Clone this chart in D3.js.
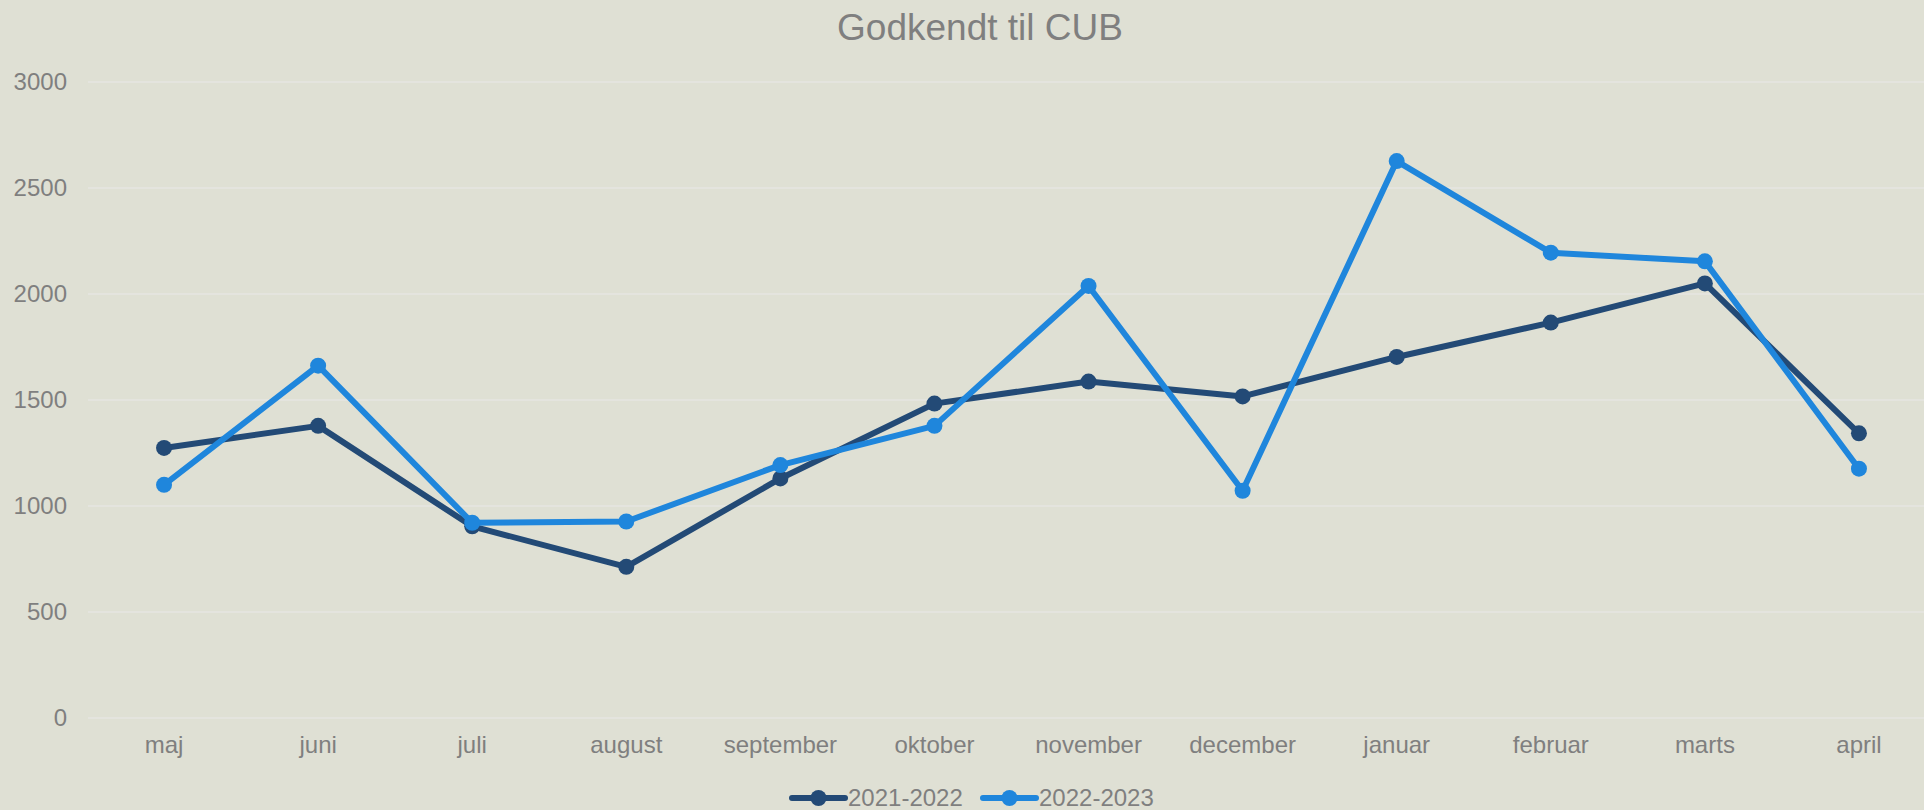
<!DOCTYPE html>
<html>
<head>
<meta charset="utf-8">
<script src="https://cdn.jsdelivr.net/npm/d3@7"></script>
<style>
	body { margin: 0; background: #dfe0d4; overflow: hidden; }
	text { font-family: "Liberation Sans", Arial, sans-serif; fill: #7f7f7f; }
</style>
</head>
<body>
<script>
(function(){

	//chart data
	var months = ["maj", "juni", "juli", "august", "september", "oktober", "november", "december", "januar", "februar", "marts", "april"];
	var seriesNames = ["2021-2022", "2022-2023"];
	var values2122 = [1274, 1378, 904, 713, 1130, 1483, 1587, 1517, 1703, 1865, 2050, 1343];
	var values2223 = [1100, 1662, 921, 927, 1193, 1378, 2038, 1072, 2627, 2195, 2154, 1176];
	var yTicks = [0, 500, 1000, 1500, 2000, 2500, 3000];
	var colors = ["#234a76", "#1f86dc"];

	//frame dimensions
	var width = 1924,
		height = 810,
		plotLeft = 88,
		plotRight = 1924,
		plotTop = 82,
		plotBottom = 718;

	var svg = d3.select("body")
		.append("svg")
		.attr("width", width)
		.attr("height", height);

	//scales
	var xScale = d3.scaleBand()
		.domain(months)
		.range([87, 1936]);

	var yScale = d3.scaleLinear()
		.domain([0, 3000])
		.range([plotBottom, plotTop]);

	//title
	svg.append("text")
		.attr("x", 980)
		.attr("y", 40)
		.attr("text-anchor", "middle")
		.style("font-size", "37px")
		.text("Godkendt til CUB");

	//gridlines
	svg.selectAll(".grid")
		.data(yTicks)
		.enter()
		.append("line")
		.attr("class", "grid")
		.attr("x1", plotLeft)
		.attr("x2", plotRight)
		.attr("y1", function(d){ return yScale(d); })
		.attr("y2", function(d){ return yScale(d); })
		.style("stroke", "#e4e4de")
		.style("stroke-width", 2);

	//y axis labels
	var yAxis = d3.axisLeft(yScale)
		.tickValues(yTicks)
		.tickFormat(d3.format("d"))
		.tickSize(0)
		.tickPadding(0);

	svg.append("g")
		.attr("transform", "translate(67,0)")
		.call(yAxis)
		.call(function(g){ g.select(".domain").remove(); })
		.selectAll("text")
		.style("font-size", "24px")
		.style("font-family", "'Liberation Sans', Arial, sans-serif")
		.attr("fill", "#7f7f7f");

	//x axis labels
	var xAxis = d3.axisBottom(xScale)
		.tickSize(0)
		.tickPadding(0);

	svg.append("g")
		.attr("transform", "translate(0,736)")
		.call(xAxis)
		.call(function(g){ g.select(".domain").remove(); })
		.selectAll("text")
		.style("font-size", "24px")
		.style("font-family", "'Liberation Sans', Arial, sans-serif")
		.attr("fill", "#7f7f7f");

	//lines and markers
	var allSeries = [values2122, values2223];

	var line = d3.line()
		.x(function(d, i){ return xScale(months[i]) + xScale.bandwidth() / 2; })
		.y(function(d){ return yScale(d); });

	allSeries.forEach(function(vals, s){
		svg.append("path")
			.datum(vals)
			.attr("d", line)
			.style("fill", "none")
			.style("stroke", colors[s])
			.style("stroke-width", 6)
			.style("stroke-linejoin", "round");

		svg.selectAll(".dot" + s)
			.data(vals)
			.enter()
			.append("circle")
			.attr("class", "dot" + s)
			.attr("cx", function(d, i){ return xScale(months[i]) + xScale.bandwidth() / 2; })
			.attr("cy", function(d){ return yScale(d); })
			.attr("r", 8)
			.style("fill", colors[s]);
	});

	//legend
	var legendX = [792, 983];
	var legend = svg.selectAll(".legend")
		.data(seriesNames)
		.enter()
		.append("g")
		.attr("class", "legend")
		.attr("transform", function(d, i){ return "translate(" + legendX[i] + ",798)"; });

	legend.append("line")
		.attr("x1", 0)
		.attr("x2", 53)
		.style("stroke", function(d, i){ return colors[i]; })
		.style("stroke-width", 6)
		.style("stroke-linecap", "round");

	legend.append("circle")
		.attr("cx", 26.5)
		.attr("r", 8)
		.style("fill", function(d, i){ return colors[i]; });

	legend.append("text")
		.attr("x", 56)
		.attr("dy", "0.35em")
		.style("font-size", "24px")
		.text(function(d){ return d; });

})();
</script>
</body>
</html>
